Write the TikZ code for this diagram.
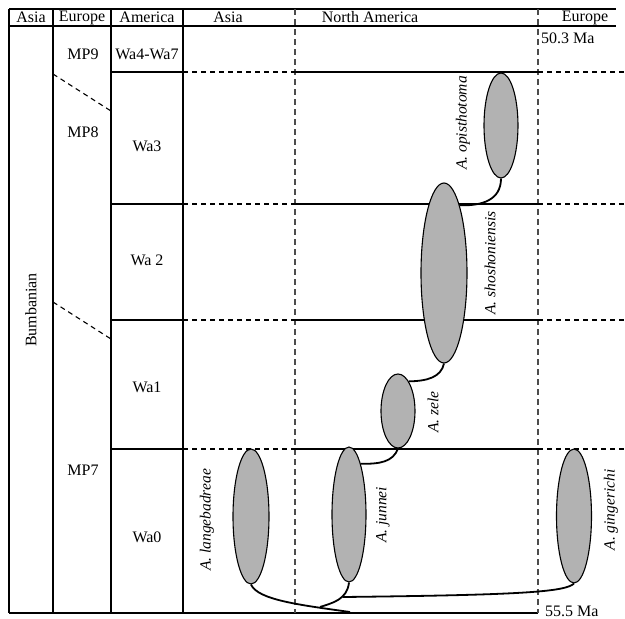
\documentclass[tikz,border=0pt]{standalone}
\usepackage{fontspec}
\setmainfont{Liberation Serif}
\usetikzlibrary{shapes.geometric}
\begin{document}
\begin{tikzpicture}[x=1pt,y=-1pt,
  grid/.style={line width=1.1pt},
  dashline/.style={line width=1.1pt, dash pattern=on 5pt off 4pt},
  vdash/.style={line width=1.1pt, dash pattern=on 6pt off 4pt, black!70},
  lab/.style={font=\fontsize{16}{18}\selectfont, inner sep=0pt},
  sp/.style={font=\fontsize{15.5}{18}\selectfont\itshape, rotate=90, inner sep=0pt},
  taxon/.style={ellipse, draw, fill=black!30, line width=1.1pt, inner sep=0pt},
  branch/.style={line width=1.8pt},
]
\useasboundingbox (0,0) rectangle (625,619);
% header lines
\draw[grid] (9,9) -- (616,9);
\draw[grid] (9,26) -- (616,26);
% verticals
\draw[grid] (9,9) -- (9,613);
\draw[grid] (53,9) -- (53,613);
\draw[grid] (111,9) -- (111,613);
\draw[grid] (183,9) -- (183,613);
\draw[grid] (9,613) -- (538,613);
\draw[vdash] (295,9) -- (295,613);
\draw[vdash] (538,9) -- (538,613);
% stage boundaries
\foreach \y in {72,204,320,449} {
  \draw[grid] (111,\y) -- (183,\y);
  \draw[dashline] (183,\y) -- (295,\y);
  \draw[grid] (295,\y) -- (538,\y);
  \draw[dashline] (538,\y) -- (625,\y);
}
% European correlation lines
\draw[dashline] (53,74) -- (111,111);
\draw[dashline] (53,302) -- (111,339);
% header texts
\node[lab] (hA1) at (31,17.5) {Asia};
\node[lab] (hE1) at (82,17.5) {Europe};
\node[lab] (hAm) at (147,17.5) {America};
\node[lab] (hA2) at (228,17.5) {Asia};
\node[lab] (hNA) at (370,17.5) {North America};
\node[lab] (hE2) at (585,17.5) {Europe};
% stage labels
\node[lab] (mp9) at (83,54) {MP9};
\node[lab] (mp8) at (83,132) {MP8};
\node[lab] (mp7) at (83,470) {MP7};
\node[lab] (wa47) at (147,54) {Wa4-Wa7};
\node[lab] (wa3) at (147,146) {Wa3};
\node[lab] (wa2) at (147,260) {Wa 2};
\node[lab] (wa1) at (147,387) {Wa1};
\node[lab] (wa0) at (147,537) {Wa0};
\node[lab, rotate=90] (bum) at (31,310) {Bumbanian};
\node[lab, anchor=west] (top) at (541,38) {50.3 Ma};
\node[lab, anchor=west] (bot) at (545,611) {55.5 Ma};
% taxa
\node[taxon, minimum width=34, minimum height=105] (opi) at (501,125.5) {};
\node[taxon, minimum width=46, minimum height=180] (sho) at (444,273) {};
\node[taxon, minimum width=34, minimum height=74] (zel) at (398,411) {};
\node[taxon, minimum width=34, minimum height=135] (jun) at (349,514.5) {};
\node[taxon, minimum width=36, minimum height=135] (lan) at (251,516.5) {};
\node[taxon, minimum width=35, minimum height=134] (gin) at (574,516) {};
% taxon names
\node[sp] (lopi) at (463,123) {A. opisthotoma};
\node[sp] (lsho) at (490,263) {A. shoshoniensis};
\node[sp] (lzel) at (433,412) {A. zele};
\node[sp] (ljun) at (383,515) {A. junnei};
\node[sp] (llan) at (207,520) {A. langebadreae};
\node[sp] (lgin) at (611,510) {A. gingerichi};
% branches
\coordinate (root) at (350,612);
\coordinate (j1) at (320,607);
\coordinate (j2) at (343,597);
\draw[branch] (opi.south) .. controls (501,200) and (482,206) .. (sho.77);
\draw[branch] (sho.south) .. controls (441,377) and (428,381) .. (zel.70);
\draw[branch] (zel.south) .. controls (393,462) and (380,464) .. (jun.77);
\draw[branch] (lan.south) .. controls (258,600) and (300,605) .. (root);
\draw[branch] (jun.south) .. controls (347,600) and (332,603) .. (j1);
\draw[branch] (gin.south) .. controls (565,592) and (520,595) .. (j2);
\end{tikzpicture}
\end{document}
